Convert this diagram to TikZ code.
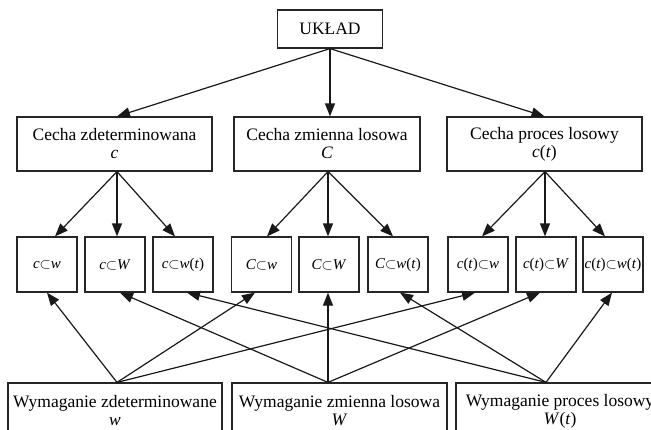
\documentclass[tikz,border=0pt]{standalone}
\usepackage{fontspec}
\setmainfont{Liberation Serif}
\usetikzlibrary{arrows.meta}
\newcommand{\sub}{$\subset$}
\begin{document}
\begin{tikzpicture}[x=1pt,y=-1pt,
  every node/.style={draw=black!85,line width=1.2pt,inner sep=0pt,align=center,
    font=\fontsize{17.5}{18}\selectfont},
  bigbox/.style={minimum height=54pt},
  smallbox/.style={minimum width=60pt,minimum height=55pt,
    font=\fontsize{15}{15}\selectfont},
  botbox/.style={minimum height=56pt},
  arr/.style={line width=1.2pt,draw=black!90,-{Triangle[length=13pt,width=10pt]}}]
\useasboundingbox (0,0) rectangle (651,429);
\clip (0,0) rectangle (651,429);
\node[minimum width=105pt,minimum height=38pt] (u) at (330,29) {UKŁAD};
\node[bigbox,minimum width=195pt] (cl) at (114.5,144) {Cecha zdeterminowana\\\textit{c}};
\node[bigbox,minimum width=186pt] (cm) at (327,144) {Cecha zmienna losowa\\\textit{C}};
\node[bigbox,minimum width=195pt] (cr) at (544.5,144) {Cecha proces losowy\\\textit{c}(\textit{t})};
\node[smallbox] (b1) at (47,264.5) {\textit{c}\sub\textit{w}};
\node[smallbox] (b2) at (115,264.5) {\textit{c}\sub\textit{W}};
\node[smallbox] (b3) at (183,264.5) {\textit{c}\sub\textit{w}(\textit{t})};
\node[smallbox] (b4) at (261.5,264.5) {\textit{C}\sub\textit{w}};
\node[smallbox] (b5) at (329,264.5) {\textit{C}\sub\textit{W}};
\node[smallbox] (b6) at (398,264.5) {\textit{C}\sub\textit{w}(\textit{t})};
\node[smallbox] (b7) at (478,264.5) {\textit{c}(\textit{t})\sub\textit{w}};
\node[smallbox] (b8) at (546,264.5) {\textit{c}(\textit{t})\sub\textit{W}};
\node[smallbox] (b9) at (613,264.5) {\textit{c}(\textit{t})\sub\textit{w}(\textit{t})};
\node[botbox,minimum width=214pt] (wl) at (115,411) {Wymaganie zdeterminowane\\\textit{w}};
\node[botbox,minimum width=215pt] (wm) at (339.5,411) {Wymaganie zmienna losowa\\\textit{W}};
\node[botbox,minimum width=208pt] (wr) at (560,411) {Wymaganie proces losowy\\\textit{W}(\textit{t})};
% top level
\draw[arr] (u.south) -- ([xshift=2.5pt]cl.north);
\draw[arr] (u.south) -- ([xshift=3pt]cm.north);
\draw[arr] (u.south) -- (cr.north);
% cecha to small boxes
\draw[arr] ([xshift=2.5pt]cl.south) -- ([xshift=8pt]b1.north);
\draw[arr] ([xshift=2.5pt]cl.south) -- ([xshift=2pt]b2.north);
\draw[arr] ([xshift=2.5pt]cl.south) -- ([xshift=-8pt]b3.north);
\draw[arr] ([xshift=1pt]cm.south) -- ([xshift=5.5pt]b4.north);
\draw[arr] ([xshift=1pt]cm.south) -- ([xshift=-1pt]b5.north);
\draw[arr] ([xshift=1pt]cm.south) -- ([xshift=-5pt]b6.north);
\draw[arr] ([xshift=0.5pt]cr.south) -- ([xshift=4pt]b7.north);
\draw[arr] ([xshift=0.5pt]cr.south) -- ([xshift=-1pt]b8.north);
\draw[arr] ([xshift=0.5pt]cr.south) -- ([xshift=-8pt]b9.north);
% requirements to small boxes
\draw[arr] ([xshift=2pt]wl.north) -- (b1.south);
\draw[arr] ([xshift=2pt]wl.north) -- ([xshift=-6.5pt]b4.south);
\draw[arr] ([xshift=2pt]wl.north) -- ([xshift=-3pt]b7.south);
\draw[arr] ([xshift=-11.5pt]wm.north) -- ([xshift=5pt]b2.south);
\draw[arr] ([xshift=-11.5pt]wm.north) -- ([xshift=-1pt]b5.south);
\draw[arr] ([xshift=-11.5pt]wm.north) -- ([xshift=-6pt]b8.south);
\draw[arr] ([xshift=-14pt]wr.north) -- ([xshift=4pt]b3.south);
\draw[arr] ([xshift=-14pt]wr.north) -- ([xshift=2pt]b6.south);
\draw[arr] ([xshift=-14pt]wr.north) -- ([xshift=-1pt]b9.south);
\end{tikzpicture}
\end{document}
